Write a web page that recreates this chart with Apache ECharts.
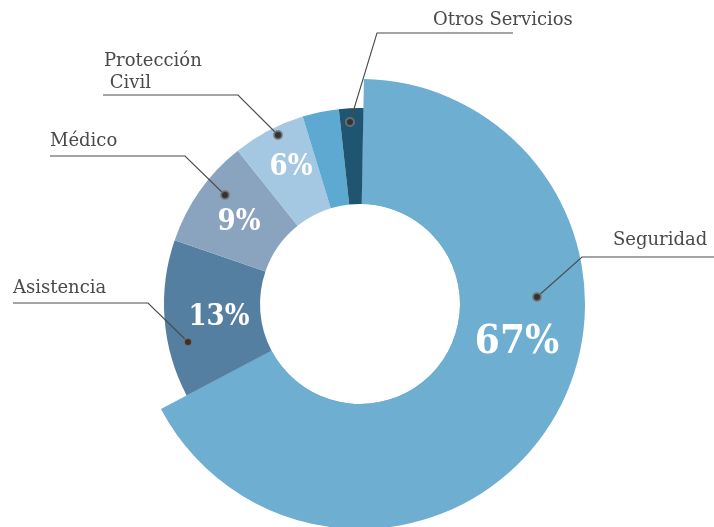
<!DOCTYPE html>
<html>
<head>
<meta charset="utf-8">
<script src="https://cdn.jsdelivr.net/npm/echarts@6/dist/echarts.min.js"></script>
<style>
html,body{margin:0;padding:0;background:#fff;}
#chart{width:714px;height:527px;}
</style>
</head>
<body>
<div id="chart"></div>
<script>
// ---- data ----
const categories = ['Seguridad', 'Asistencia', 'Médico', 'Protección Civil', 'Otros', 'Otros Servicios'];
const values = [67, 13, 9, 6, 3, 2];
const pctLabels = ['67%', '13%', '9%', '6%', '', ''];
const calloutLabels = ['Seguridad', 'Asistencia', 'Médico', 'Protección\n Civil', '', 'Otros Servicios'];

// ---- styles / layout ----
const colors = ['#6DAED1', '#557FA0', '#8AA3BE', '#A4C8E1', '#5EA9D1', '#1F5570'];
const center = [360, 304];
const innerR = 100;
const bigOuterR = 225;
const smallOuterR = 196;
const startAngle = 89;

const textColor = '#4a4a4a';
const serif = '"DejaVu Serif", serif';
const pctFont = '"DejaVu Serif Condensed", Roboto, sans-serif';

// annotation layout (pixels): percent label centres
const pctPos = [[517, 343], [219, 317], [239, 222], [291, 167], null, null];
const pctSize = [40, 29, 29, 29, 0, 0];
// callouts: dot, elbow, end, text position
const callouts = [
  {i: 0, pts: [[537, 297], [582, 257], [714, 257]], text: [613, 240]},
  {i: 1, pts: [[188, 342], [148, 303], [13, 303]], text: [13, 288]},
  {i: 2, pts: [[225, 195], [185, 156], [50, 156]], text: [50, 141]},
  {i: 3, pts: [[278, 135], [238, 95], [103, 95]], text: [104, 61]},
  {i: 5, pts: [[350, 122], [377, 33], [513, 33]], text: [433, 20]}
];

const graphics = [];
callouts.forEach(c => {
  graphics.push({
    type: 'polyline', silent: true, z: 10,
    shape: {points: c.pts},
    style: {stroke: '#4a4a4a', lineWidth: 1.1, fill: null}
  });
  graphics.push({
    type: 'circle', silent: true, z: 11,
    shape: {cx: c.pts[0][0], cy: c.pts[0][1], r: 4},
    style: {fill: '#333', stroke: 'rgba(120,120,120,0.8)', lineWidth: 2}
  });
  const lines = calloutLabels[c.i].split('\n');
  lines.forEach((ln, k) => {
    graphics.push({
      type: 'text', silent: true, z: 12,
      x: c.text[0], y: c.text[1] + k * 22,
      style: {text: ln, fill: textColor, font: '18px ' + serif,
              textAlign: 'left', textVerticalAlign: 'middle'}
    });
  });
});
pctLabels.forEach((t, i) => {
  if (!t) return;
  graphics.push({
    type: 'text', silent: true, z: 12,
    x: pctPos[i][0], y: pctPos[i][1],
    style: {text: t, fill: '#ffffff', font: 'bold ' + pctSize[i] + 'px ' + pctFont,
            textAlign: 'center', textVerticalAlign: 'middle'}
  });
});

const chart = echarts.init(document.getElementById('chart'), null, {renderer: 'canvas'});
chart.setOption({
  animation: false,
  backgroundColor: '#ffffff',
  series: [
    {
      type: 'pie',
      center: center,
      radius: [innerR, bigOuterR],
      startAngle: startAngle,
      clockwise: true,
      silent: true,
      z: 1,
      label: {show: false},
      labelLine: {show: false},
      itemStyle: {borderWidth: 0},
      data: values.map((v, i) => ({
        value: v, name: categories[i],
        itemStyle: {color: i === 0 ? colors[0] : 'rgba(0,0,0,0)', borderWidth: 0}
      }))
    },
    {
      type: 'pie',
      center: center,
      radius: [innerR, smallOuterR],
      startAngle: startAngle,
      clockwise: true,
      silent: true,
      z: 2,
      label: {show: false},
      labelLine: {show: false},
      itemStyle: {borderWidth: 0},
      data: values.map((v, i) => ({
        value: v, name: categories[i],
        itemStyle: {color: colors[i], borderWidth: 0}
      }))
    }
  ],
  graphic: graphics
});
</script>
</body>
</html>
